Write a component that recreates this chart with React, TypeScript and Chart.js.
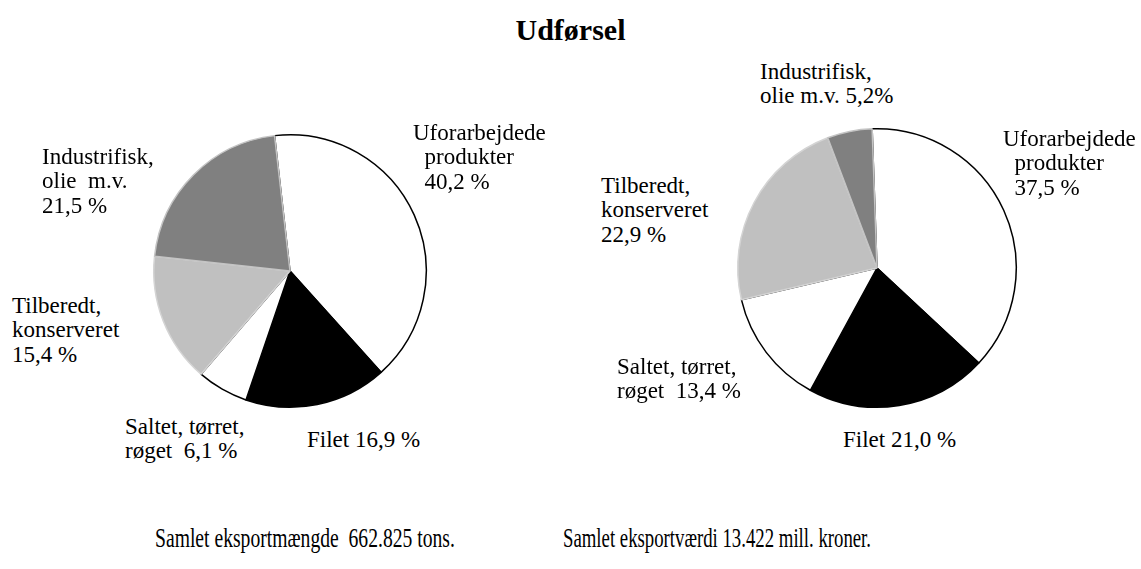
import React, { useEffect, useRef } from "react";
import { Chart, registerables } from "chart.js";

Chart.register(...registerables);

const categories = [
  "Uforarbejdede produkter",
  "Filet",
  "Saltet, tørret, røget",
  "Tilberedt, konserveret",
  "Industrifisk, olie m.v.",
];
const quantityShares = [40.2, 16.9, 6.1, 15.4, 21.5];
const valueShares = [37.5, 21.0, 13.4, 22.9, 5.2];

const sliceColors = ["#ffffff", "#000000", "#ffffff", "#c0c0c0", "#808080"];
const sliceBorders = ["#000000", "#000000", "#000000", "#d4d4d4", "#c4c4c4"];

const titleText = "Udførsel";
const quantityLabels = [
  ["Uforarbejdede", "  produkter", "  40,2 %"],
  ["Filet 16,9 %"],
  ["Saltet, tørret,", "røget  6,1 %"],
  ["Tilberedt,", "konserveret", "15,4 %"],
  ["Industrifisk,", "olie  m.v.", "21,5 %"],
];
const valueLabels = [
  ["Uforarbejdede", "  produkter", "  37,5 %"],
  ["Filet 21,0 %"],
  ["Saltet, tørret,", "røget  13,4 %"],
  ["Tilberedt,", "konserveret", "22,9 %"],
  ["Industrifisk,", "olie m.v. 5,2%"],
];
const footerLeft = "Samlet eksportmængde  662.825 tons.";
const footerRight = "Samlet eksportværdi 13.422 mill. kroner.";

// layout (not data)
const FONT = "'Liberation Serif', serif";
const LF = 23;
const LH = 24.3;
const FF = 27;
const quantityLabelPos = [
  { x: 413, b: 141 },
  { x: 307, b: 448 },
  { x: 125, b: 435 },
  { x: 12, b: 314 },
  { x: 42, b: 165 },
];
const valueLabelPos = [
  { x: 1003, b: 147 },
  { x: 843, b: 448 },
  { x: 617, b: 375 },
  { x: 601, b: 194 },
  { x: 760, b: 80 },
];

function Pie({ values, cx, cy, r, rot }: { values: number[]; cx: number; cy: number; r: number; rot: number }) {
  const ref = useRef<HTMLCanvasElement>(null);
  const pad = 3;
  const size = 2 * r + 2 * pad;
  useEffect(() => {
    if (!ref.current) return;
    const chart = new Chart(ref.current, {
      type: "pie",
      data: {
        labels: categories,
        datasets: [
          {
            data: values,
            backgroundColor: sliceColors,
            borderColor: sliceBorders,
            borderWidth: 1.5,
            hoverOffset: 0,
            offset: 0,
          },
        ],
      },
      options: {
        responsive: false,
        animation: false,
        devicePixelRatio: 1,
        rotation: rot,
        layout: { padding: pad },
        plugins: { legend: { display: false }, tooltip: { enabled: false }, title: { display: false } },
        events: [],
      },
    });
    return () => chart.destroy();
  }, []);
  return (
    <canvas
      ref={ref}
      width={size}
      height={size}
      style={{ position: "absolute", left: cx - r - pad, top: cy - r - pad, width: size, height: size }}
    />
  );
}

function Label({ lines, x, b }: { lines: string[]; x: number; b: number }) {
  const top = b - LH / 2 - 0.3375 * LF;
  return (
    <div
      style={{
        position: "absolute",
        left: x,
        top,
        fontFamily: FONT,
        fontSize: LF,
        lineHeight: LH + "px",
        whiteSpace: "pre",
        color: "#000",
      }}
    >
      {lines.map((l, i) => (
        <div key={i} style={{ fontFamily: FONT }}>{l}</div>
      ))}
    </div>
  );
}

const footerStyle = (x: number, sx: number): React.CSSProperties => ({
  position: "absolute",
  left: x,
  top: 548 - FF / 2 - 0.3375 * FF,
  fontFamily: FONT,
  fontSize: FF,
  lineHeight: FF + "px",
  whiteSpace: "pre",
  transformOrigin: "0 0",
  transform: `scaleX(${sx})`,
});

export default function App() {
  return (
    <div style={{ position: "absolute", left: 0, top: 0, width: 1141, height: 569, background: "#fff", overflow: "hidden", fontFamily: FONT }}>
      <div
        style={{
          position: "absolute",
          left: 0,
          width: 1141,
          top: 40 - 15 - 0.3375 * 30,
          lineHeight: "30px",
          textAlign: "center",
          fontFamily: FONT,
          fontWeight: "bold",
          fontSize: 30,
        }}
      >
        {titleText}
      </div>
      <Pie values={quantityShares} cx={290} cy={271} r={137} rot={-6.5} />
      <Pie values={valueShares} cx={877} cy={268} r={140} rot={-2} />
      {quantityLabels.map((l, i) => (
        <Label key={"q" + i} lines={l} x={quantityLabelPos[i].x} b={quantityLabelPos[i].b} />
      ))}
      {valueLabels.map((l, i) => (
        <Label key={"v" + i} lines={l} x={valueLabelPos[i].x} b={valueLabelPos[i].b} />
      ))}
      <div style={footerStyle(155, 0.727)}>{footerLeft}</div>
      <div style={footerStyle(563, 0.695)}>{footerRight}</div>
    </div>
  );
}
